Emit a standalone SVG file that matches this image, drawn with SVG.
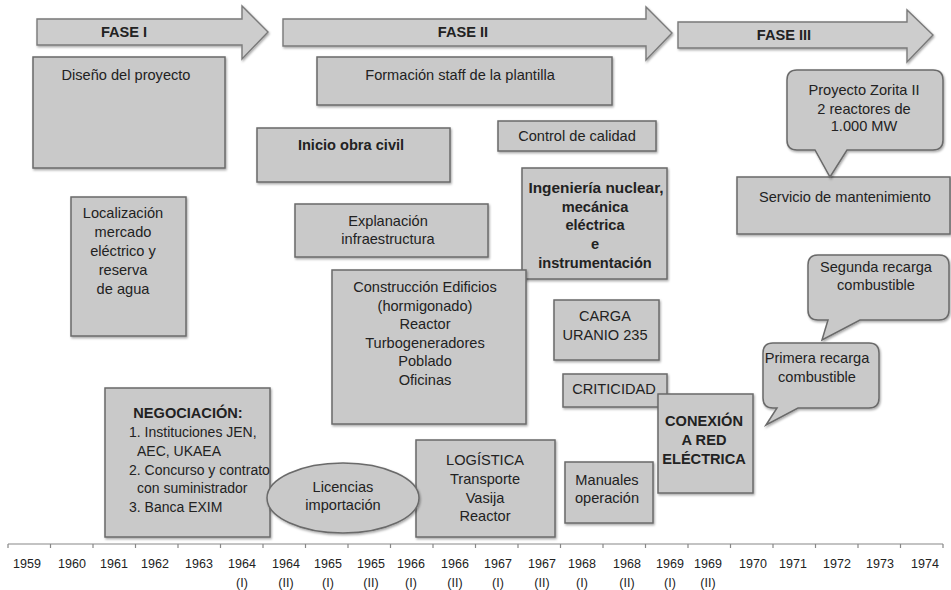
<svg xmlns="http://www.w3.org/2000/svg" width="951" height="590" viewBox="0 0 951 590">
<style>
  .box { fill: #c9c9c9; stroke: #6a6a6a; stroke-width: 1.5; filter: url(#sh); }
  .arr { fill: #cdcdcd; stroke: #7a7a7a; stroke-width: 1.4; filter: url(#sh); }
  text { font-family: "Liberation Sans", Arial, sans-serif; font-size: 14.6px; fill: #222; text-anchor: middle; }
  .b { font-weight: bold; }
  .l { font-size: 14px; text-anchor: start; }
  .yr { font-size: 12.5px; }
  .axis { stroke: #888; stroke-width: 1.2; fill: none; }
</style>
<defs>
  <filter id="sh" x="-10%" y="-10%" width="120%" height="130%">
    <feDropShadow dx="1" dy="1.5" stdDeviation="1" flood-color="#000" flood-opacity="0.35"/>
  </filter>
</defs>
<rect width="951" height="590" fill="#fff"/>

<g id="phases">
  <g id="fase1"><polygon class="arr" points="37,19 242,19 242,6 268,32 242,59 242,45 37,45"/><text class="b" x="124" y="37">FASE I</text></g>
  <g id="fase2"><polygon class="arr" points="283,19 646,19 646,7 672,33 646,60 646,46 283,46"/><text class="b" x="463" y="37">FASE II</text></g>
  <g id="fase3"><polygon class="arr" points="678,22 907,22 907,10 933,35 907,62 907,48 678,48"/><text class="b" x="784" y="40">FASE III</text></g>
</g>

<g id="diseno"><rect class="box" x="33" y="57" width="192" height="111"/><text x="126" y="80">Diseño del proyecto</text></g>
<g id="localizacion"><rect class="box" x="71" y="197" width="115" height="139"/>
  <text x="123" y="218">Localización</text><text x="123" y="237">mercado</text><text x="123" y="256">eléctrico y</text><text x="123" y="275">reserva</text><text x="123" y="294">de agua</text></g>
<g id="formacion"><rect class="box" x="317" y="57" width="295" height="48"/><text x="460" y="80">Formación staff de la plantilla</text></g>
<g id="inicio"><rect class="box" x="257" y="128" width="193" height="54"/><text class="b" x="351" y="150">Inicio obra civil</text></g>
<g id="control"><rect class="box" x="498" y="121" width="158" height="30"/><text x="577" y="141">Control de calidad</text></g>
<g id="explanacion"><rect class="box" x="295" y="204" width="193" height="53"/><text x="388" y="226">Explanación</text><text x="388" y="244">infraestructura</text></g>
<g id="ingenieria"><rect class="box" x="522" y="168" width="145" height="111"/>
  <text class="b" x="596" y="193" style="font-size:15.4px">Ingeniería nuclear,</text><text class="b" x="595" y="212">mecánica</text><text class="b" x="595" y="230">eléctrica</text><text class="b" x="595" y="249">e</text><text class="b" x="595" y="268">instrumentación</text></g>
<g id="construccion"><rect class="box" x="332" y="270" width="194" height="154"/>
  <text x="425" y="292">Construcción Edificios</text><text x="425" y="311">(hormigonado)</text><text x="425" y="329">Reactor</text><text x="425" y="348">Turbogeneradores</text><text x="425" y="366">Poblado</text><text x="425" y="385">Oficinas</text></g>
<g id="carga"><rect class="box" x="554" y="300" width="105" height="60"/><text x="605" y="321">CARGA</text><text x="605" y="340">URANIO 235</text></g>
<g id="criticidad"><rect class="box" x="563" y="374" width="104" height="33"/><text x="614" y="394">CRITICIDAD</text></g>
<g id="conexion"><rect class="box" x="658" y="394" width="95" height="99"/>
  <text class="b" x="704" y="426">CONEXIÓN</text><text class="b" x="704" y="445">A RED</text><text class="b" x="704" y="464">ELÉCTRICA</text></g>
<g id="manuales"><rect class="box" x="565" y="462" width="88" height="61"/><text x="607" y="485">Manuales</text><text x="607" y="503">operación</text></g>
<g id="logistica"><rect class="box" x="416" y="440" width="139" height="97"/>
  <text x="485" y="465">LOGÍSTICA</text><text x="485" y="484">Transporte</text><text x="485" y="503">Vasija</text><text x="485" y="521">Reactor</text></g>
<g id="negociacion"><rect class="box" x="105" y="388" width="165" height="149"/>
  <text class="b" x="188" y="418">NEGOCIACIÓN:</text>
  <text class="l" x="129" y="437">1. Instituciones JEN,</text>
  <text class="l" x="137" y="456">AEC, UKAEA</text>
  <text class="l" x="129" y="475">2. Concurso y contrato</text>
  <text class="l" x="137" y="493">con suministrador</text>
  <text class="l" x="129" y="512">3. Banca EXIM</text></g>
<g id="licencias"><ellipse class="box" cx="343" cy="498" rx="76" ry="35"/><text x="343" y="492">Licencias</text><text x="343" y="510">importación</text></g>

<g id="servicio"><rect class="box" x="737" y="177" width="213" height="57"/><text x="845" y="202">Servicio de mantenimiento</text></g>
<g id="zorita"><path class="box" d="M797,70 H933 Q943,70 943,80 V140 Q943,150 933,150 H847 L830,177 L815,150 H797 Q787,150 787,140 V80 Q787,70 797,70 Z"/>
  <text x="864" y="95">Proyecto Zorita II</text><text x="864" y="114">2 reactores de</text><text x="864" y="131">1.000 MW</text></g>
<g id="segunda"><path class="box" d="M818,255 H939 Q949,255 949,265 V310 Q949,320 939,320 H860 L822,340 L828,320 H818 Q808,320 808,310 V265 Q808,255 818,255 Z"/>
  <text x="876" y="272">Segunda recarga</text><text x="876" y="290">combustible</text></g>
<g id="primera"><path class="box" d="M773,343 H869 Q879,343 879,353 V398 Q879,408 869,408 H798 L766,425 L777,408 H773 Q763,408 763,398 V353 Q763,343 773,343 Z"/>
  <text x="817" y="363">Primera recarga</text><text x="817" y="382">combustible</text></g>

<g id="connectors">
  <g id="axis">
    <line class="axis" x1="8" y1="544" x2="943" y2="544"/>
    <path class="axis" d="M8,544v4 M50.5,544v4 M93,544v4 M135.5,544v4 M178,544v4 M220.5,544v4 M263,544v4 M305.5,544v4 M348,544v4 M390.5,544v4 M433,544v4 M475.5,544v4 M518,544v4 M560.5,544v4 M603,544v4 M645.5,544v4 M688,544v4 M730.5,544v4 M773,544v4 M815.5,544v4 M858,544v4 M900.5,544v4 M943,544v4"/>
  </g>
</g>
<g id="years">
  <text class="yr" x="27" y="568">1959</text>
  <text class="yr" x="72" y="568">1960</text>
  <text class="yr" x="114" y="568">1961</text>
  <text class="yr" x="155" y="568">1962</text>
  <text class="yr" x="199" y="568">1963</text>
  <text class="yr" x="242" y="568">1964</text><text class="yr" x="242" y="587">(I)</text>
  <text class="yr" x="286" y="568">1964</text><text class="yr" x="286" y="587">(II)</text>
  <text class="yr" x="328" y="568">1965</text><text class="yr" x="328" y="587">(I)</text>
  <text class="yr" x="371" y="568">1965</text><text class="yr" x="371" y="587">(II)</text>
  <text class="yr" x="411" y="568">1966</text><text class="yr" x="411" y="587">(I)</text>
  <text class="yr" x="455" y="568">1966</text><text class="yr" x="455" y="587">(II)</text>
  <text class="yr" x="498" y="568">1967</text><text class="yr" x="498" y="587">(I)</text>
  <text class="yr" x="542" y="568">1967</text><text class="yr" x="542" y="587">(II)</text>
  <text class="yr" x="582" y="568">1968</text><text class="yr" x="582" y="587">(I)</text>
  <text class="yr" x="627" y="568">1968</text><text class="yr" x="627" y="587">(II)</text>
  <text class="yr" x="670" y="568">1969</text><text class="yr" x="670" y="587">(I)</text>
  <text class="yr" x="708" y="568">1969</text><text class="yr" x="708" y="587">(II)</text>
  <text class="yr" x="753" y="568">1970</text>
  <text class="yr" x="793" y="568">1971</text>
  <text class="yr" x="837" y="568">1972</text>
  <text class="yr" x="880" y="568">1973</text>
  <text class="yr" x="925" y="568">1974</text>
</g>
</svg>
